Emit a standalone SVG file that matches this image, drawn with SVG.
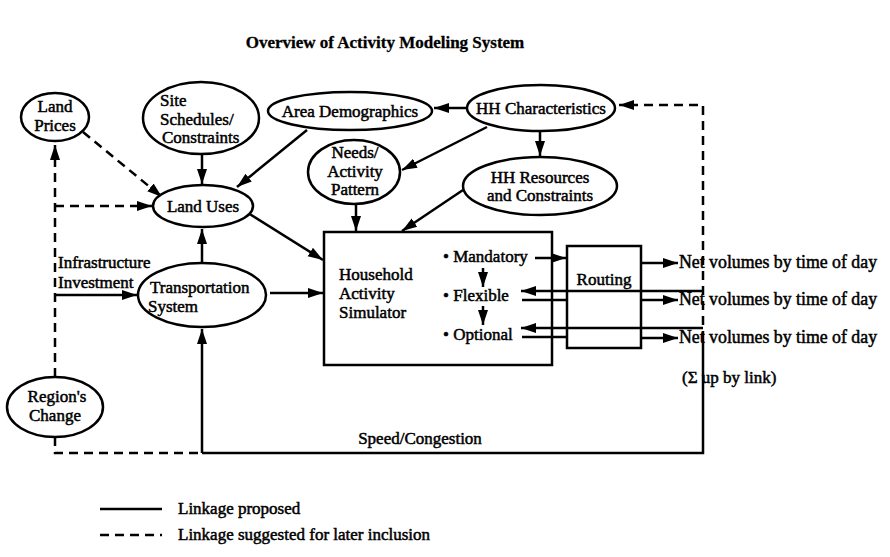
<svg xmlns="http://www.w3.org/2000/svg" width="890" height="557" viewBox="0 0 890 557">
<style>
text{font-family:"Liberation Serif","Times New Roman",serif;font-size:17px;fill:#000;stroke:#000;stroke-width:0.5}
.t{font-weight:bold;font-size:17px;stroke-width:0.3}
.c{text-anchor:middle}
.v{font-size:17.8px}
.n{fill:#fff;stroke:#000;stroke-width:2.5}
.s{fill:none;stroke:#000;stroke-width:2.5}
.d{fill:none;stroke:#000;stroke-width:2.5;stroke-dasharray:9,6}
</style>
<defs>
<marker id="a" markerUnits="userSpaceOnUse" markerWidth="16" markerHeight="12" refX="15" refY="6" orient="auto">
<path d="M0,1 L15,6 L0,11 z" fill="#000"/>
</marker>
</defs>
<rect width="890" height="557" fill="#fff"/>
<text class="t c" x="385" y="48">Overview of Activity Modeling System</text>

<g id="connectors">
<path class="d" d="M55,377 V145" marker-end="url(#a)"/>
<path class="d" d="M55,206 H152" marker-end="url(#a)"/>
<path class="d" d="M83,132 L162,197" marker-end="url(#a)"/>
<path class="s" d="M55,295 H137" marker-end="url(#a)"/>
<path class="d" d="M55,437 V453 H202"/>
<path class="s" d="M202,453 H703 V340"/>
<path class="s" d="M202,453 V329" marker-end="url(#a)"/>
<path class="d" d="M703,340 V105 H619" marker-end="url(#a)"/>
<path class="s" d="M202,154 V184" marker-end="url(#a)"/>
<path class="s" d="M307,130 L237,187" marker-end="url(#a)"/>
<path class="s" d="M467,108 H434" marker-end="url(#a)"/>
<path class="s" d="M540,131 V156" marker-end="url(#a)"/>
<path class="s" d="M487,127 L402,170" marker-end="url(#a)"/>
<path class="s" d="M356,204 V231" marker-end="url(#a)"/>
<path class="s" d="M463,190 L402,231" marker-end="url(#a)"/>
<path class="s" d="M248,213 L323,260" marker-end="url(#a)"/>
<path class="s" d="M202,263 V229" marker-end="url(#a)"/>
<path class="s" d="M270,293 H323" marker-end="url(#a)"/>
<path class="s" d="M483,268 V287" marker-end="url(#a)"/>
<path class="s" d="M483,306 V325" marker-end="url(#a)"/>
<path class="s" d="M535,258 H566" marker-end="url(#a)"/>
<path class="s" d="M522,300 H567"/>
<path class="s" d="M522,337 H567"/>
<path class="s" d="M703,291 H521" marker-end="url(#a)"/>
<path class="s" d="M703,328 H521" marker-end="url(#a)"/>
<path class="s" d="M641,263 H678" marker-end="url(#a)"/>
<path class="s" d="M641,300 H678" marker-end="url(#a)"/>
<path class="s" d="M641,338 H678" marker-end="url(#a)"/>
</g>

<g id="land-prices">
<ellipse class="n" cx="55" cy="117" rx="34" ry="24"/>
<text class="c" x="55" y="112">Land</text>
<text class="c" x="55" y="131">Prices</text>
</g>
<g id="site-schedules">
<ellipse class="n" cx="201" cy="118" rx="58" ry="36"/>
<text x="160" y="106">Site</text>
<text x="160" y="125">Schedules/</text>
<text x="162" y="143">Constraints</text>
</g>
<g id="area-demographics">
<ellipse class="n" cx="350" cy="111" rx="82" ry="19"/>
<text class="c" x="350" y="117">Area Demographics</text>
</g>
<g id="hh-characteristics">
<ellipse class="n" cx="541" cy="108" rx="74" ry="23"/>
<text class="c" x="541" y="114">HH Characteristics</text>
</g>
<g id="needs">
<ellipse class="n" cx="354" cy="172" rx="46" ry="32"/>
<text class="c" x="355" y="158">Needs/</text>
<text class="c" x="355" y="177">Activity</text>
<text class="c" x="355" y="195">Pattern</text>
</g>
<g id="hh-resources">
<ellipse class="n" cx="540" cy="186" rx="77" ry="29"/>
<text class="c" x="540" y="183">HH Resources</text>
<text class="c" x="540" y="201">and Constraints</text>
</g>
<g id="land-uses">
<ellipse class="n" cx="203" cy="206" rx="50" ry="21"/>
<text class="c" x="203" y="212">Land Uses</text>
</g>
<g id="transportation">
<ellipse class="n" cx="202" cy="295" rx="64" ry="32"/>
<text x="150" y="293">Transportation</text>
<text x="148" y="312">System</text>
</g>
<g id="regions-change">
<ellipse class="n" cx="55" cy="407" rx="48" ry="30"/>
<text class="c" x="57" y="402">Region's</text>
<text class="c" x="55" y="421">Change</text>
</g>
<g id="infrastructure-label">
<text x="58" y="268">Infrastructure</text>
<text x="58" y="288">Investment</text>
</g>
<g id="household-simulator">
<rect class="s" x="324" y="232" width="228" height="133"/>
<text x="339" y="280">Household</text>
<text x="339" y="299">Activity</text>
<text x="339" y="318">Simulator</text>
<text x="443" y="262">• Mandatory</text>
<text x="443" y="301">• Flexible</text>
<text x="443" y="340">• Optional</text>
</g>
<g id="routing">
<rect class="s" x="567" y="246" width="74" height="102"/>
<text class="c" x="604" y="285">Routing</text>
</g>
<g id="outputs">
<text class="v" x="679" y="268">Net volumes by time of day</text>
<text class="v" x="679" y="305">Net volumes by time of day</text>
<text class="v" x="679" y="343">Net volumes by time of day</text>
<text x="682" y="383">(Σ up by link)</text>
</g>
<text class="c" x="420" y="444">Speed/Congestion</text>
<g id="legend">
<path class="s" d="M100,509 H162"/>
<path class="d" d="M100,535 H162" stroke-dasharray="7,5"/>
<text x="178" y="514">Linkage proposed</text>
<text x="178" y="540">Linkage suggested for later inclusion</text>
</g>
</svg>
